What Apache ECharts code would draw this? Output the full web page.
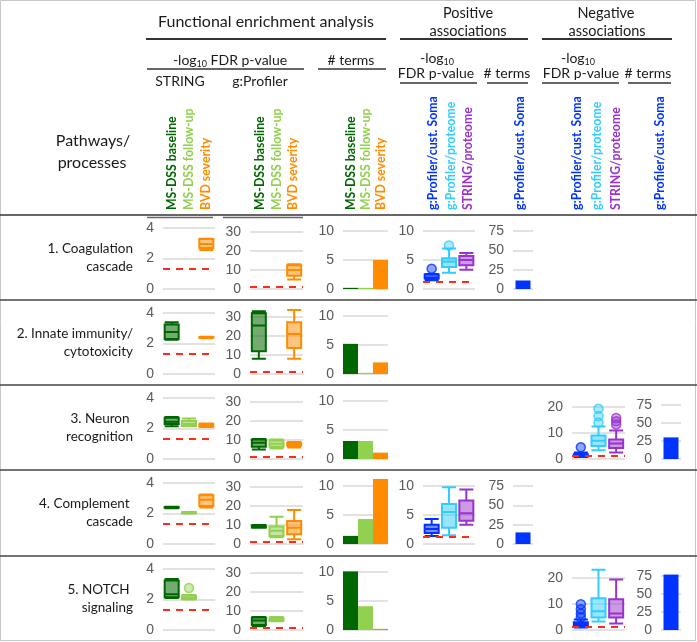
<!DOCTYPE html>
<html><head><meta charset="utf-8">
<script src="https://cdn.jsdelivr.net/npm/echarts@6/dist/echarts.min.js"></script>
<style>html,body{margin:0;padding:0;background:#fff}#c{width:697px;height:642px}</style>
</head><body><div id="c"></div>
<script>
// ---------------- DATA ----------------
const rowLabels = ['1. Coagulation\ncascade', '2. Innate immunity/\ncytotoxicity', '3. Neuron \nrecognition', '4. Complement \ncascade', '5. NOTCH \nsignaling'];
const enrichCats = ['MS-DSS baseline', 'MS-DSS follow-up', 'BVD severity'];
const assocCats = ['g:Profiler/cust. Soma', 'g:Profiler/proteome', 'STRING/proteome'];
const somaCats = ['g:Profiler/cust. Soma'];

// tick labels
const stringTicks = [0, 2, 4];
const gprofTicks = [0, 10, 20, 30];
const termTicks = [0, 5, 10];
const posFdrTicks = [0, 5, 10];
const assocTermTicks = [0, 25, 50, 75];
const negFdrTicks = [0, 10, 20];

const fdrCutoff = 1.3; // -log10(0.05)

// boxes: [min, Q1, median, Q3, max]; null = not reported
const stringFdr = [
  [null, null, [2.56, 2.69, 2.95, 3.28, 3.3]],
  [[2.25, 2.3, 2.75, 3.25, 3.4], null, [2.35, 2.37, 2.4, 2.43, 2.45]],
  [[2.15, 2.3, 2.45, 2.7, 2.75], [2.15, 2.17, 2.3, 2.5, 2.65], [2.1, 2.13, 2.2, 2.3, 2.32]],
  [[2.35, 2.37, 2.4, 2.43, 2.45], [2.0, 2.02, 2.05, 2.08, 2.1], [2.4, 2.5, 2.9, 3.2, 3.25]],
  [[2.1, 2.14, 2.35, 3.25, 3.35], [2.0, 2.03, 2.1, 2.25, 2.3], null]
];
const stringOutliers = [[], [], [], [], [[1, 2.75]]];

const gprofFdr = [
  [null, null, [5, 7, 10, 12.5, 13]],
  [[8, 12, 25.5, 32, 33], null, [8, 13.7, 21, 27.3, 33.7]],
  [[5, 6.5, 8.5, 10.3, 10.5], [5.5, 6.5, 8, 9.8, 10.2], [6, 7, 8, 8.5, 9]],
  [[8.5, 8.7, 9.3, 9.8, 10], [3.5, 4.2, 7, 9.2, 14.4], [2.5, 5.1, 8.6, 12.1, 17.9]],
  [[2, 2.6, 5, 6.6, 6.8], [4.6, 4.9, 5.6, 6.4, 6.8], null]
];
const gprofOutliers = [[], [], [], [], []];

const enrichTerms = [
  [0.2, 0.2, 5],
  [5.2, 0.2, 2],
  [3.1, 3.1, 1.1],
  [1.4, 4.3, 11.2],
  [10.1, 4.1, 0.2]
];

const posFdr = [
  [[1.5, 1.8, 2.0, 2.5, 2.6], [2.8, 3.8, 4.7, 5.3, 7.0], [3.3, 4.1, 5.0, 5.7, 6.2]],
  null,
  null,
  [[1.4, 1.9, 2.6, 3.3, 4.3], [1.5, 2.8, 5.5, 6.9, 9.8], [3.3, 4.0, 5.3, 7.5, 9.4]],
  null
];
const posOutliers = [[[0, 3.5], [1, 7.5]], [], [], [], []];
const posTerms = [11, null, null, 15, null];

const negFdr = [
  null,
  null,
  [[0.8, 1.0, 1.3, 1.8, 2.5], [3.4, 5, 7, 9, 12.5], [2.5, 4.2, 6, 7.5, 11]],
  null,
  [[1.0, 1.5, 2.3, 3.0, 4.0], [3.3, 4.8, 7.2, 12.2, 23.2], [2.5, 4.8, 6.3, 11.8, 19.4]]
];
const negOutliers = [[], [], [[0, 4.5], [1, 14], [1, 16.5], [1, 19.3], [2, 13.3], [2, 14.5], [2, 15.8]], [], [[0, 4.8], [0, 6.3], [0, 8.0], [0, 9.9]]];
const negTerms = [null, null, 30, null, 77];

// ---------------- STYLE / LAYOUT ----------------
const enrichColors = ['#006600', '#92D050', '#FF8C00'];
const enrichFills = ['rgba(0,102,0,0.55)', 'rgba(146,208,80,0.55)', 'rgba(255,140,0,0.5)'];
const assocColors = ['#0033FF', '#33CCFF', '#9933CC'];
const assocFills = ['rgba(0,51,255,0.55)', 'rgba(51,204,255,0.5)', 'rgba(153,51,204,0.5)'];

const rowTops = [215, 300, 385, 470, 556];
const ZERO = 74;
const P = {
  string: { left: 163, width: 52, topOff: 13 },
  gprof: { left: 250, width: 53, topOff: 17 },
  terms: { left: 343, width: 45, topOff: 16 },
  posFdr: { left: 423, width: 52, topOff: 16 },
  posTerms: { left: 513, width: 20, topOff: 16 },
  negFdr: { left: 572, width: 53, topOff: 22 },
  negTerms: { left: 661, width: 20, topOff: 20 }
};

const grid = [], xAxis = [], yAxis = [], series = [];

function addGrid(r, p, ticks, cats) {
  grid.push({ left: p.left, top: rowTops[r] + p.topOff, width: p.width, height: ZERO - p.topOff });
  const gi = grid.length - 1;
  xAxis.push({ type: 'category', gridIndex: gi, data: cats, show: false });
  yAxis.push({
    type: 'value', gridIndex: gi, min: ticks[0], max: ticks[ticks.length - 1], interval: ticks[1] - ticks[0],
    axisLine: { show: false }, axisTick: { show: false },
    axisLabel: { color: '#595959', fontSize: 14, fontFamily: 'Liberation Sans', margin: 9 },
    splitLine: { lineStyle: { color: '#d9d9d9', width: 1.5 } }
  });
  return gi;
}

function addBox(gi, boxes, colors, fills, outliers) {
  series.push({
    type: 'boxplot', xAxisIndex: gi, yAxisIndex: gi, boxWidth: [14, 14], silent: true,
    data: boxes.map((b, i) => b ? { value: b.slice(), itemStyle: { color: fills[i], borderColor: colors[i], borderWidth: 2 } }
      : { value: [0, 0, 0, 0, 0], itemStyle: { color: 'rgba(0,0,0,0)', borderColor: 'rgba(0,0,0,0)', borderWidth: 0 } }),
    markLine: {
      silent: true, symbol: ['none', 'none'], label: { show: false },
      lineStyle: { color: '#FF2A1A', type: [7, 6], width: 2 },
      data: [{ yAxis: fdrCutoff }]
    }
  });
  if (outliers && outliers.length) {
    series.push({
      type: 'scatter', xAxisIndex: gi, yAxisIndex: gi, symbolSize: 9, clip: false, silent: true,
      data: outliers.map(o => ({ value: o, itemStyle: { color: fills[o[0]], borderColor: colors[o[0]], borderWidth: 1.5 } }))
    });
  }
}

function addBars(gi, vals, colors) {
  series.push({
    type: 'bar', xAxisIndex: gi, yAxisIndex: gi, barWidth: 15, clip: false, silent: true,
    data: vals.map((v, i) => ({ value: v, itemStyle: { color: colors[i] } }))
  });
}

for (let r = 0; r < 5; r++) {
  addBox(addGrid(r, P.string, stringTicks, enrichCats), stringFdr[r], enrichColors, enrichFills, stringOutliers[r]);
  addBox(addGrid(r, P.gprof, gprofTicks, enrichCats), gprofFdr[r], enrichColors, enrichFills, gprofOutliers[r]);
  addBars(addGrid(r, P.terms, termTicks, enrichCats), enrichTerms[r], enrichColors);
  if (posFdr[r]) {
    addBox(addGrid(r, P.posFdr, posFdrTicks, assocCats), posFdr[r], assocColors, assocFills, posOutliers[r]);
    addBars(addGrid(r, P.posTerms, assocTermTicks, somaCats), [posTerms[r]], assocColors);
  }
  if (negFdr[r]) {
    addBox(addGrid(r, P.negFdr, negFdrTicks, assocCats), negFdr[r], assocColors, assocFills, negOutliers[r]);
    addBars(addGrid(r, P.negTerms, assocTermTicks, somaCats), [negTerms[r]], assocColors);
  }
}

// ---------------- GRAPHICS (text, rules) ----------------
const HF = 'Lato';
const g = [];
function txt(x, y, text, size, opts) {
  opts = opts || {};
  g.push({
    type: 'text', x: x, y: y, rotation: opts.rot || 0, silent: true,
    style: Object.assign({ text: text, fill: opts.color || '#1a1a1a', font: (opts.weight || 'normal') + ' ' + size + 'px ' + HF,
      align: opts.align || 'center', verticalAlign: opts.va || 'middle', lineHeight: opts.lh || size * 1.25 }, opts.extra || {})
  });
}
function hline(x1, x2, y, color, w) {
  g.push({ type: 'line', silent: true, shape: { x1: x1, y1: y, x2: x2, y2: y }, style: { stroke: color, lineWidth: w } });
}
// frame
g.push({ type: 'rect', silent: true, shape: { x: 0.5, y: 0.5, width: 695, height: 640 }, style: { fill: 'none', stroke: '#c8c8c8', lineWidth: 1 } });
// separators
hline(0, 697, 215, '#333', 1.6);
[300, 385, 470, 556].forEach(y => hline(0, 697, y, '#444', 1.3));
hline(147, 213, 217.5, '#666', 1.5);
hline(223, 303, 217.5, '#666', 1.5);

// headers
txt(266, 22, 'Functional enrichment analysis', 16);
hline(146, 386, 39, '#333', 2);
txt(468, 13, 'Positive', 14.5); txt(468, 31, 'associations', 14.5);
hline(400, 528, 39, '#333', 2);
txt(606, 13, 'Negative', 14.5); txt(607, 31, 'associations', 14.5);
hline(542, 672, 39, '#333', 2);

const subRich = { s: { fontSize: 9, fontFamily: HF, verticalAlign: 'bottom', padding: [7, 0, 0, 0] }, n: { fontSize: 14, fontFamily: HF } };
txt(230, 60, '{n|-log}{s|10}{n| FDR p-value}', 14, { extra: { rich: subRich } });
hline(147, 304, 69, '#333', 1.5);
txt(351, 60, '# terms', 14);
hline(318, 386, 69, '#333', 1.5);
txt(180, 81, 'STRING', 14);
txt(260, 81, 'g:Profiler', 14);

txt(437, 58, '{n|-log}{s|10}', 14, { extra: { rich: subRich } });
txt(436, 73, 'FDR p-value', 14);
hline(400, 477, 83, '#333', 1.5);
txt(507, 73, '# terms', 14);
hline(487, 528, 83, '#333', 1.5);
txt(578, 58, '{n|-log}{s|10}', 14, { extra: { rich: subRich } });
txt(581, 73, 'FDR p-value', 14);
hline(542, 619, 83, '#333', 1.5);
txt(648, 73, '# terms', 14);
hline(628, 671, 83, '#333', 1.5);

txt(93, 141, 'Pathways/', 16);
txt(92, 163, 'processes', 16);

// rotated column labels
const ROT = Math.PI / 2, LBOT = 210;
function colLabels(xs, cats, colors) {
  xs.forEach((x, i) => txt(x, LBOT, cats[i], 12.3, { rot: ROT, align: 'left', color: colors[i], weight: 'bold' }));
}
colLabels([172, 189, 206], enrichCats, enrichColors);
colLabels([260, 277, 293], enrichCats, enrichColors);
colLabels([351, 366, 381], enrichCats, enrichColors);
colLabels([433, 451, 468], assocCats, assocColors);
colLabels([520], somaCats, assocColors);
colLabels([577, 597, 616], assocCats, assocColors);
colLabels([660], somaCats, assocColors);

// row labels
rowLabels.forEach((lab, r) => txt(133, rowTops[r] + 43, lab, 13.5, { align: 'right', lh: 18 }));

const chart = echarts.init(document.getElementById('c'), null, { renderer: 'canvas' });
chart.setOption({ animation: false, backgroundColor: '#fff', grid, xAxis, yAxis, series, graphic: g });
</script></body></html>
